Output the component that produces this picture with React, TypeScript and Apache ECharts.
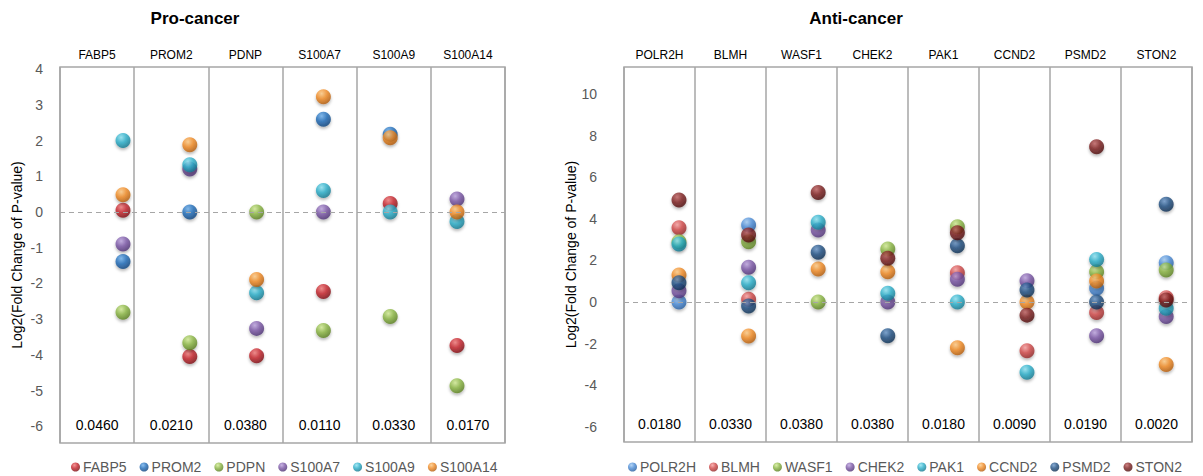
import React, { useEffect, useRef } from "react";
import * as echarts from "echarts";

// ---- Pro-cancer panel ----
const proGenes = ["FABP5", "PROM2", "PDNP", "S100A7", "S100A9", "S100A14"];
const proPValues = ["0.0460", "0.0210", "0.0380", "0.0110", "0.0330", "0.0170"];
const proSeriesNames = ["FABP5", "PROM2", "PDPN", "S100A7", "S100A9", "S100A14"];
const proFABP5 = [0.05, -4.05, -4.03, -2.23, 0.24, -3.74];
const proPROM2 = [-1.39, 0.0, null, 2.6, 2.18, null];
const proPDPN = [-2.81, -3.66, 0.0, -3.32, -2.93, -4.87];
const proS100A7 = [-0.9, 1.2, -3.26, 0.0, null, 0.36];
const proS100A9 = [2.0, 1.32, -2.26, 0.6, 0.0, -0.27];
const proS100A14 = [0.48, 1.88, -1.89, 3.23, 2.08, 0.0];
const proTicks = [-6, -5, -4, -3, -2, -1, 0, 1, 2, 3, 4];

// ---- Anti-cancer panel ----
const antiGenes = ["POLR2H", "BLMH", "WASF1", "CHEK2", "PAK1", "CCND2", "PSMD2", "STON2"];
const antiPValues = ["0.0180", "0.0330", "0.0380", "0.0380", "0.0180", "0.0090", "0.0190", "0.0020"];
const antiSeriesNames = ["POLR2H", "BLMH", "WASF1", "CHEK2", "PAK1", "CCND2", "PSMD2", "STON2"];
const antiPOLR2H = [0.0, 3.7, null, null, null, null, 0.66, 1.89];
const antiBLMH = [3.57, 0.13, null, null, 1.41, -2.34, -0.5, 0.2];
const antiWASF1 = [2.9, 2.9, 0.0, 2.55, 3.62, null, 1.46, 1.54];
const antiCHEK2 = [0.54, 1.67, 3.46, 0.0, 1.09, 1.02, -1.62, -0.7];
const antiPAK1 = [2.79, 0.93, 3.83, 0.42, 0.0, -3.38, 2.05, -0.3];
const antiCCND2 = [1.3, -1.63, 1.59, 1.46, -2.2, 0.0, 1.01, -3.0];
const antiPSMD2 = [0.93, -0.19, 2.39, -1.62, 2.71, 0.58, 0.0, 4.7];
const antiSTON2 = [4.9, 3.22, 5.27, 2.1, 3.33, -0.63, 7.47, 0.1];
const antiTicks = [-6, -4, -2, 0, 2, 4, 6, 8, 10];

const proValues = [proFABP5, proPROM2, proPDPN, proS100A7, proS100A9, proS100A14];
const antiValues = [antiPOLR2H, antiBLMH, antiWASF1, antiCHEK2, antiPAK1, antiCCND2, antiPSMD2, antiSTON2];

// sphere shading: [highlight, base, shade]
const RED = ["#f07a7a", "#c4222a", "#6e0a0e"];
const BLUE = ["#6fb0ec", "#1e6bb8", "#0a3a70"];
const GREEN = ["#d2eb95", "#8ab543", "#4f7318"];
const PURPLE = ["#bca3de", "#7b57a6", "#432969"];
const CYAN = ["#8fe2f1", "#2aaec9", "#0e6c82"];
const ORANGE = ["#fdca85", "#f08a24", "#a65206"];
const LIGHTBLUE = ["#a3cbf3", "#4a8bd6", "#1f5494"];
const LIGHTRED = ["#f7a0a0", "#d04848", "#852020"];
const NAVY = ["#6a96c8", "#1f4f82", "#0b2747"];
const MAROON = ["#c06363", "#7d1f1f", "#420909"];

const proColors = [RED, BLUE, GREEN, PURPLE, CYAN, ORANGE];
const antiColors = [LIGHTBLUE, LIGHTRED, GREEN, PURPLE, CYAN, ORANGE, NAVY, MAROON];

const FONT = "'Liberation Sans', Arial, sans-serif";
const FRAME = "#a6a6a6";
const AXIS_NAME = "Log2(Fold Change of P-value)";

function sphere(c: string[]) {
  return {
    type: "radial",
    x: 0.38,
    y: 0.3,
    r: 0.78,
    colorStops: [
      { offset: 0, color: c[0] },
      { offset: 0.45, color: c[1] },
      { offset: 1, color: c[2] },
    ],
  };
}

type Panel = {
  genes: string[];
  pvals: string[];
  names: string[];
  values: (number | null)[][];
  colors: string[][];
  ticks: number[];
  yMin: number;
  yMax: number;
  frame: { left: number; top: number; width: number; height: number };
  data: { left: number; width: number };
  labelMargin: number;
  nameGap: number;
};

const panels: Panel[] = [
  {
    genes: proGenes,
    pvals: proPValues,
    names: proSeriesNames,
    values: proValues,
    colors: proColors,
    ticks: proTicks,
    yMin: -6.47,
    yMax: 4.06,
    frame: { left: 60, top: 67, width: 445, height: 376 },
    data: { left: 89.6, width: 400.8 },
    labelMargin: 17,
    nameGap: 36,
  },
  {
    genes: antiGenes,
    pvals: antiPValues,
    names: antiSeriesNames,
    values: antiValues,
    colors: antiColors,
    ticks: antiTicks,
    yMin: -6.73,
    yMax: 11.3,
    frame: { left: 624, top: 67, width: 568, height: 375 },
    data: { left: 644.2, width: 556.8 },
    labelMargin: 27,
    nameGap: 45,
  },
];

function buildOption() {
  const grid: any[] = [];
  const xAxis: any[] = [];
  const yAxis: any[] = [];
  const series: any[] = [];
  const legend: any[] = [];

  panels.forEach((p, i) => {
    const g = i * 2;
    const xb = i * 3;
    const yb = i * 2;
    grid.push({
      ...p.frame,
      show: true,
      borderColor: FRAME,
      borderWidth: 1.5,
      backgroundColor: "transparent",
    });
    grid.push({ left: p.data.left, width: p.data.width, top: p.frame.top, height: p.frame.height });

    // gene headers above each column, with column dividers
    xAxis.push({
      type: "category",
      gridIndex: g,
      data: p.genes,
      position: "top",
      boundaryGap: true,
      axisLine: { show: false },
      axisTick: { show: false },
      axisLabel: { color: "#000", fontSize: 12, fontFamily: FONT, margin: 6, interval: 0 },
      splitLine: { show: true, interval: 0, lineStyle: { color: FRAME, width: 1.5 } },
    });
    // p-values inside the bottom of each column
    xAxis.push({
      type: "category",
      gridIndex: g,
      data: p.pvals,
      position: "bottom",
      axisLine: { show: false },
      axisTick: { show: false },
      axisLabel: { inside: true, margin: 11, color: "#000", fontSize: 14, fontFamily: FONT, interval: 0 },
      splitLine: { show: false },
    });
    // category axis carrying the dots
    xAxis.push({ type: "category", gridIndex: g + 1, data: p.genes, show: false, boundaryGap: true });

    yAxis.push({
      type: "value",
      gridIndex: g,
      min: p.yMin,
      max: p.yMax,
      axisLine: { show: false },
      axisTick: { show: false },
      splitLine: { show: false },
      axisLabel: {
        customValues: p.ticks,
        color: "#595959",
        fontSize: 14,
        fontFamily: FONT,
        margin: p.labelMargin,
      },
      name: AXIS_NAME,
      nameLocation: "middle",
      nameRotate: 90,
      nameGap: p.nameGap,
      nameTextStyle: { color: "#000", fontSize: 14, fontFamily: FONT },
    });
    yAxis.push({ type: "value", gridIndex: g + 1, min: p.yMin, max: p.yMax, show: false });

    // dashed zero reference across the whole frame
    series.push({
      type: "line",
      name: "zero-" + i,
      xAxisIndex: xb,
      yAxisIndex: yb,
      data: [],
      silent: true,
      markLine: {
        silent: true,
        symbol: "none",
        label: { show: false },
        lineStyle: { type: [5, 4], color: FRAME, width: 1.2 },
        data: [{ yAxis: 0 }],
      },
    });

    p.names.forEach((name, k) => {
      series.push({
        type: "scatter",
        name,
        xAxisIndex: xb + 2,
        yAxisIndex: yb + 1,
        symbol: "circle",
        symbolSize: 15,
        z: 3,
        data: p.values[k],
        itemStyle: {
          color: sphere(p.colors[k]),
          shadowBlur: 3,
          shadowOffsetY: 2,
          shadowColor: "rgba(0,0,0,0.35)",
        },
        emphasis: { disabled: true },
      });
    });

    legend.push({
      data: p.names,
      left: i === 0 ? 66 : 623,
      top: 455,
      icon: "circle",
      itemWidth: 9,
      itemHeight: 9,
      itemGap: 13,
      selectedMode: false,
      textStyle: { color: "#595959", fontSize: 14, fontFamily: FONT, padding: [0, 0, 0, -2] },
    });
  });

  return {
    animation: false,
    backgroundColor: "#fff",
    grid,
    xAxis,
    yAxis,
    series,
    legend,
    graphic: [
      {
        type: "text",
        x: 195,
        y: 18,
        style: {
          text: "Pro-cancer",
          textAlign: "center",
          textVerticalAlign: "middle",
          font: "bold 17px 'Liberation Sans', Arial, sans-serif",
          fill: "#000",
        },
      },
      {
        type: "text",
        x: 856,
        y: 18,
        style: {
          text: "Anti-cancer",
          textAlign: "center",
          textVerticalAlign: "middle",
          font: "bold 17px 'Liberation Sans', Arial, sans-serif",
          fill: "#000",
        },
      },
    ],
  };
}

export default function App() {
  const ref = useRef<HTMLDivElement>(null);
  useEffect(() => {
    document.body.style.margin = "0";
    if (!ref.current) return;
    const chart = echarts.init(ref.current, undefined, { renderer: "svg" });
    chart.setOption(buildOption() as any);
    return () => chart.dispose();
  }, []);
  return <div ref={ref} style={{ width: 1203, height: 476 }} />;
}
